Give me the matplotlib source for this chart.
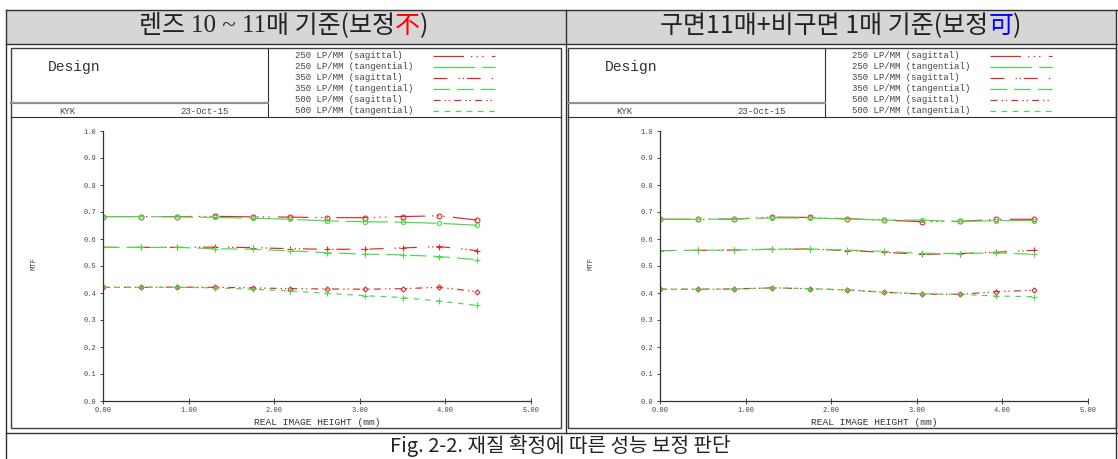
import matplotlib
matplotlib.use("Agg")
import matplotlib.pyplot as plt
from matplotlib.lines import Line2D
from matplotlib.patches import Rectangle

plt.rcParams['lines.scale_dashes'] = False

W, H = 1118, 459

# image height (mm) of the evaluated field points
heights = [0.00, 0.44, 0.87, 1.31, 1.75, 2.19, 2.62, 3.06, 3.50, 3.93, 4.37]

# MTF, lens 10~11 elements
left_250_sag = [0.683, 0.683, 0.683, 0.684, 0.682, 0.681, 0.679, 0.679, 0.683, 0.686, 0.670]
left_250_tan = [0.683, 0.683, 0.682, 0.680, 0.677, 0.673, 0.667, 0.664, 0.662, 0.658, 0.651]
left_350_sag = [0.569, 0.569, 0.569, 0.570, 0.568, 0.564, 0.562, 0.562, 0.567, 0.572, 0.557]
left_350_tan = [0.569, 0.569, 0.569, 0.564, 0.562, 0.556, 0.549, 0.544, 0.541, 0.535, 0.523]
left_500_sag = [0.421, 0.421, 0.422, 0.421, 0.419, 0.416, 0.415, 0.414, 0.416, 0.421, 0.405]
left_500_tan = [0.421, 0.421, 0.421, 0.419, 0.414, 0.407, 0.399, 0.390, 0.383, 0.370, 0.354]

# MTF, 11 spherical + 1 aspheric
right_250_sag = [0.673, 0.673, 0.674, 0.681, 0.680, 0.675, 0.670, 0.664, 0.665, 0.673, 0.673]
right_250_tan = [0.673, 0.673, 0.674, 0.678, 0.678, 0.674, 0.670, 0.670, 0.665, 0.668, 0.668]
right_350_sag = [0.557, 0.558, 0.559, 0.562, 0.563, 0.557, 0.551, 0.543, 0.546, 0.551, 0.558]
right_350_tan = [0.557, 0.558, 0.559, 0.562, 0.563, 0.559, 0.554, 0.547, 0.546, 0.549, 0.543]
right_500_sag = [0.414, 0.414, 0.415, 0.419, 0.416, 0.411, 0.403, 0.396, 0.395, 0.405, 0.410]
right_500_tan = [0.414, 0.414, 0.415, 0.419, 0.416, 0.411, 0.403, 0.397, 0.395, 0.389, 0.386]

legend_labels = ["250 LP/MM (sagittal)", "250 LP/MM (tangential)",
                 "350 LP/MM (sagittal)", "350 LP/MM (tangential)",
                 "500 LP/MM (sagittal)", "500 LP/MM (tangential)"]
y_ticks = [0.0, 0.1, 0.2, 0.3, 0.4, 0.5, 0.6, 0.7, 0.8, 0.9, 1.0]
x_ticks = [0.0, 1.0, 2.0, 3.0, 4.0, 5.0]

RED = "#e02828"
GREEN = "#4cd84c"
styles = [
    dict(color=RED, ls=(0, (22, 5, 1, 3, 1, 3, 1, 6)), marker='o', ms=3.5, mfc='none'),
    dict(color=GREEN, ls=(0, (30, 5)), marker='o', ms=3, mfc='none'),
    dict(color=RED, ls=(0, (10, 8, 1, 2, 1, 2)), marker='+', ms=4.5),
    dict(color=GREEN, ls=(0, (12, 5)), marker='+', ms=4),
    dict(color=RED, ls=(0, (5, 3, 1, 2, 1, 3)), marker='D', ms=2.6, mfc='none'),
    dict(color=GREEN, ls=(0, (4, 4)), marker='+', ms=4),
]

MONO = "Liberation Mono"
CJK = ["Noto Sans CJK KR", "DejaVu Sans"]

fig = plt.figure(figsize=(W / 100, H / 100), dpi=100)
fig.patch.set_facecolor("white")


def fx(x):
    return x / W


def fy(y):
    return 1 - y / H


def hline(x0, x1, y, lw=1.0, color="#303030"):
    fig.add_artist(Line2D([fx(x0), fx(x1)], [fy(y), fy(y)], lw=lw, color=color))


def vline(x, y0, y1, lw=1.0, color="#303030"):
    fig.add_artist(Line2D([fx(x), fx(x)], [fy(y0), fy(y1)], lw=lw, color=color))


def text_parts(xc, y, parts, size):
    # lay out differently styled pieces side by side, centred on xc
    r = fig.canvas.get_renderer()
    objs = []
    for s, fam, col in parts:
        t = fig.text(0, fy(y), s, fontsize=size, family=fam, color=col, va='center', ha='left')
        objs.append(t)
    widths = [t.get_window_extent(r).width for t in objs]
    x = xc - sum(widths) / 2
    for t, w in zip(objs, widths):
        t.set_x(fx(x))
        x += w


# table: gray header row, two columns, caption row
fig.add_artist(Rectangle((fx(6), fy(44)), fx(1116) - fx(6), fy(10) - fy(44),
                         facecolor="#d6d6d6", edgecolor="none", zorder=0))
hline(6, 1118, 10)
hline(6, 1118, 44)
hline(6, 1118, 433)
vline(6, 10, 459)
vline(566, 10, 433)
vline(1116, 10, 459)

text_parts(284, 26, [("렌즈 ", CJK, "#222222"), ("10 ~ 11", "Liberation Serif", "#222222"),
                     ("매 기준(보정", CJK, "#222222"), ("不", CJK, "red"),
                     (")", CJK, "#222222")], 18)
text_parts(841, 26, [("구면11매+비구면 1매 기준(보정", CJK, "#222222"), ("可", CJK, "blue"),
                     (")", CJK, "#222222")], 18)

text_parts(560, 446, [("Fig. 2-2. 재질 확정에 따른 성능 보정 판단", CJK, "#222222")], 14.5)


def panel(x0, x1, series):
    # frame of the exported plot image
    fig.add_artist(Rectangle((fx(x0), fy(428)), fx(x1) - fx(x0), fy(48) - fy(428),
                             facecolor="none", edgecolor="#404040", lw=1.0))
    hline(x0, x1, 117, lw=0.8)
    vline(x0 + 257, 48, 117, lw=0.8)
    hline(x0, x0 + 257, 103, lw=1.6, color="#909090")
    fig.text(fx(x0 + 37), fy(67), "Design", family=MONO, fontsize=10.5, color="#333333", va='center')
    fig.text(fx(x0 + 48), fy(111), "KYK", family=MONO, fontsize=6.5, color="#444444", va='center')
    fig.text(fx(x0 + 169), fy(111), "23-Oct-15", family=MONO, fontsize=6.5, color="#444444", va='center')
    for i, (lab, st) in enumerate(zip(legend_labels, styles)):
        yy = 56 + i * 10.9
        fig.text(fx(x0 + 284), fy(yy), lab, family=MONO, fontsize=6.5, color="#444444", va='center')
        fig.add_artist(Line2D([fx(x0 + 422), fx(x0 + 484)], [fy(yy), fy(yy)],
                              color=st['color'], ls=st['ls'], lw=0.9))

    ax_x0 = x0 + 92
    ax = fig.add_axes([fx(ax_x0), fy(401), fx(ax_x0 + 428) - fx(ax_x0), fy(131) - fy(401)])
    ax.set_zorder(2)
    for vals, st in zip(series, styles):
        ax.plot(heights, vals, color=st['color'], ls=st['ls'], lw=0.85,
                marker=st['marker'], ms=st['ms'], mfc=st.get('mfc', st['color']),
                mec=st['color'], mew=0.8)
    ax.set_xlim(0, 5)
    ax.set_ylim(0, 1)
    ax.spines['top'].set_visible(False)
    ax.spines['right'].set_visible(False)
    for s in ('left', 'bottom'):
        ax.spines[s].set_linewidth(0.9)
        ax.spines[s].set_color("#333333")
    ax.set_xticks(x_ticks)
    ax.set_xticklabels(["%.2f" % v for v in x_ticks])
    ax.set_yticks(y_ticks)
    ax.set_yticklabels(["%.1f" % v for v in y_ticks])
    ax.tick_params(axis='both', labelsize=5, colors="#444444", length=2.5, width=0.7, pad=2)
    ax.tick_params(axis='x', direction='inout', length=4)
    for lab in ax.get_xticklabels() + ax.get_yticklabels():
        lab.set_family(MONO)
    ax.set_xlabel("REAL IMAGE HEIGHT (mm)", family=MONO, fontsize=6.8, color="#333333", labelpad=3)
    fig.text(fx(x0 + 23), fy(263), "MTF", family=MONO, fontsize=5.2, color="#444444",
             rotation=90, va='center', ha='center')
    ax.set_facecolor("none")


panel(11, 561, [left_250_sag, left_250_tan, left_350_sag, left_350_tan, left_500_sag, left_500_tan])
panel(568, 1116, [right_250_sag, right_250_tan, right_350_sag, right_350_tan, right_500_sag, right_500_tan])

fig.savefig("out.png", dpi=100)
